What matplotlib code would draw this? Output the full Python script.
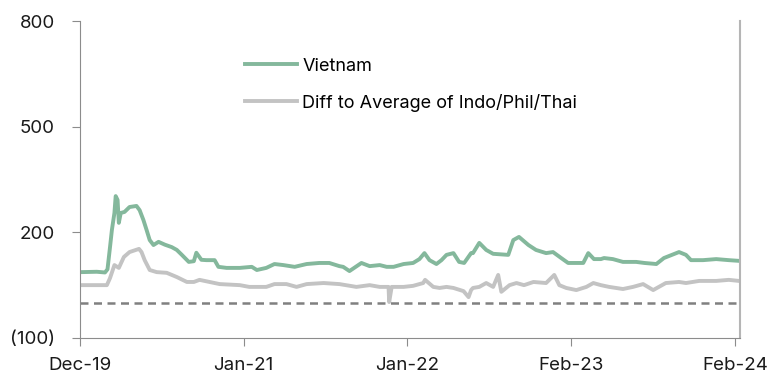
import matplotlib
matplotlib.use("Agg")
import matplotlib.pyplot as plt

plt.rcParams['font.family'] = ['Inter', 'DejaVu Sans']

# x positions are observation numbers (ticks every 260 obs)
vn_x = [3, 27, 40, 44, 48, 51, 55, 57, 60, 62, 65, 71, 79, 90, 95, 101, 106, 111, 117,
        125, 135, 146, 154, 162, 173, 181, 185, 193, 201, 206, 214, 220, 233, 254, 273,
        281, 296, 309, 323, 341, 360, 380, 396, 412, 418, 428, 447, 460, 476, 487, 498,
        514, 529, 539, 547, 555, 566, 574, 582, 593, 602, 610, 621, 624, 634, 645, 656,
        680, 688, 697, 712, 724, 740, 751, 764, 775, 788, 799, 807, 816, 827, 832, 846,
        862, 883, 896, 915, 927, 951, 962, 970, 989, 1010, 1030, 1046]
vn_y = [87, 88, 86, 95, 158, 207, 255, 303, 292, 227, 255, 258, 272, 275, 263, 235, 207,
        178, 164, 173, 165, 158, 150, 136, 116, 118, 142, 122, 121, 121, 121, 102, 99, 99,
        102, 93, 99, 110, 107, 102, 110, 113, 113, 104, 102, 90, 113, 104, 107, 102, 102,
        110, 113, 124, 141, 121, 110, 121, 136, 141, 116, 113, 141, 141, 170, 150, 139,
        136, 178, 187, 164, 150, 141, 144, 127, 113, 113, 113, 141, 124, 124, 127, 124,
        116, 116, 113, 110, 127, 144, 136, 121, 121, 124, 121, 119]

diff_x = [3, 43, 48, 55, 62, 70, 79, 94, 98, 103, 111, 122, 138, 154, 170, 181, 190, 206,
          222, 254, 269, 296, 309, 328, 344, 360, 387, 412, 439, 460, 476, 490, 491, 495,
          514, 529, 545, 548, 561, 571, 582, 593, 609, 617, 621, 624, 634, 645, 656, 664,
          669, 682, 693, 705, 720, 740, 753, 761, 772, 788, 804, 815, 827, 840, 862, 878,
          894, 910, 930, 951, 962, 983, 1010, 1030, 1046]
diff_y = [50, 50, 70, 107, 99, 130, 144, 153, 144, 121, 93, 87, 85, 73, 59, 59, 65, 59,
          53, 50, 45, 45, 53, 53, 45, 53, 56, 53, 45, 50, 45, 45, 2, 45,
          45, 48, 56, 65, 45, 42, 45, 42, 33, 16, 36, 42, 45, 56, 45, 79,
          31, 50, 56, 50, 59, 56, 79, 50, 42, 36, 45, 56, 50, 45, 39, 45,
          53, 36, 56, 59, 56, 62, 62, 65, 62]

tick_pos = [0, 260, 520, 780, 1040]
tick_labels = ['Dec-19', 'Jan-21', 'Jan-22', 'Feb-23', 'Feb-24']
y_ticks = [-100, 200, 500, 800]
y_labels = ['(100)', '200', '500', '800']

fig = plt.figure(figsize=(7.67, 3.78), dpi=100)
ax = fig.add_axes([0.104, 0.106, 0.861, 0.838])

ax.plot(vn_x, vn_y, color='#84b89c', lw=2.8, label='Vietnam')
ax.plot(diff_x, diff_y, color='#c3c3c3', lw=2.8, label='Diff to Average of Indo/Phil/Thai')
ax.axhline(0, color='#808080', lw=1.8, dashes=(3.2, 2.2))

ax.set_xlim(0, 1048)
ax.set_ylim(-100, 800)
ax.set_xticks(tick_pos)
ax.set_xticklabels(tick_labels)
ax.set_yticks(y_ticks)
ax.set_yticklabels(y_labels)

ax.spines['top'].set_visible(False)
for s in ['left', 'bottom']:
    ax.spines[s].set_color('#8c8c8c')
ax.spines['right'].set_color('#b5b5b5')
ax.spines['right'].set_linewidth(1.5)
ax.tick_params(axis='y', length=6, color='#8c8c8c', pad=12, labelsize=13.5, labelcolor='#1a1a1a')
ax.tick_params(axis='x', length=6, color='#8c8c8c', pad=8, labelsize=13.5, labelcolor='#1a1a1a')

ax.legend(loc='upper left', bbox_to_anchor=(0.25, 0.885), frameon=False, fontsize=13,
          handlelength=2.9, handletextpad=0.28, labelspacing=1.05, borderpad=0, borderaxespad=0)

fig.savefig('out.png', dpi=100)
